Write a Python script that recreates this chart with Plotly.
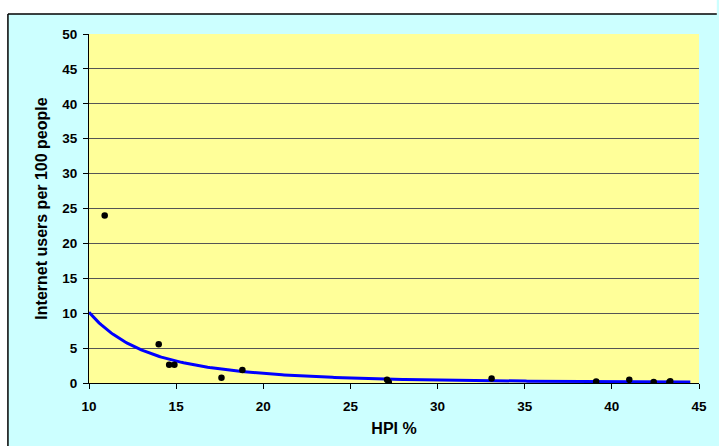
import numpy as np
import plotly.graph_objects as go

# Data
hpi = [10.9, 14.0, 14.6, 14.9, 17.6, 18.8, 27.1, 27.2, 33.1, 39.1, 41.0, 42.4, 43.35, 43.3]
internet = [24.0, 5.55, 2.6, 2.6, 0.75, 1.85, 0.45, 0.1, 0.65, 0.2, 0.45, 0.15, 0.25, 0.1]
x_ticks = [10, 15, 20, 25, 30, 35, 40, 45]
y_ticks = [0, 5, 10, 15, 20, 25, 30, 35, 40, 45, 50]
trend_range = [10.0, 44.5]

# Power trendline (least squares in log space, as Excel does)
b, ln_a = np.polyfit(np.log(hpi), np.log(internet), 1)
tx = np.linspace(trend_range[0], trend_range[1], 300)
ty = np.exp(ln_a) * tx ** b

fig = go.Figure()
fig.add_trace(go.Scatter(x=tx, y=ty, mode="lines",
                         line=dict(color="#0000FF", width=3), hoverinfo="skip"))
fig.add_trace(go.Scatter(x=hpi, y=internet, mode="markers",
                         marker=dict(color="black", size=6.5)))

W, H = 719, 446
L, R, T, B = 89, 13, 34, 63
pw, ph = W - L - R, H - T - B

def px_x(p):
    return (p - L) / pw

def px_y(p):
    return (H - B - p) / ph

font = "Liberation Sans, Arial, sans-serif"

fig.update_layout(
    width=W, height=H,
    margin=dict(l=L, r=R, t=T, b=B),
    paper_bgcolor="#CCFFFF",
    plot_bgcolor="#FFFF99",
    showlegend=False,
    font=dict(family=font, color="black", size=13),
    xaxis=dict(
        range=[10, 45], tickvals=x_ticks, ticks="outside", ticklen=5,
        tickcolor="black", showline=True, linecolor="black", linewidth=1,
        showgrid=False, zeroline=False, ticklabelstandoff=6,
        tickfont=dict(family=font, size=13.5, color="black", weight="bold"),
        title=dict(text="<b>HPI %</b>", font=dict(family=font, size=16), standoff=9),
    ),
    yaxis=dict(
        range=[0, 50], tickvals=y_ticks, ticks="outside", ticklen=5,
        tickcolor="black", showline=True, linecolor="black", linewidth=1,
        showgrid=True, gridcolor="#555555", gridwidth=1, zeroline=False,
        ticklabelstandoff=3,
        tickfont=dict(family=font, size=13.5, color="black", weight="bold"),
        title=dict(text="<b>Internet users per 100 people</b>", font=dict(family=font, size=16), standoff=10),
    ),
    shapes=[
        # white strips outside the chart border
        dict(type="rect", xref="paper", yref="paper", x0=px_x(-5), x1=px_x(W + 5),
             y0=px_y(14), y1=px_y(-5), fillcolor="white", line=dict(width=0), layer="above"),
        dict(type="rect", xref="paper", yref="paper", x0=px_x(-5), x1=px_x(7),
             y0=px_y(H + 5), y1=px_y(-5), fillcolor="white", line=dict(width=0), layer="above"),
        # chart border
        dict(type="line", xref="paper", yref="paper", x0=px_x(7), x1=px_x(W + 5),
             y0=px_y(14), y1=px_y(14), line=dict(color="black", width=1.5), layer="above"),
        dict(type="line", xref="paper", yref="paper", x0=px_x(7), x1=px_x(7),
             y0=px_y(14), y1=px_y(H + 5), line=dict(color="black", width=1.5), layer="above"),
    ],
)

fig.write_html("out.html", config={"displayModeBar": False})

# remove the default page margin so the figure sits at the window origin
with open("out.html", encoding="utf-8") as f:
    html = f.read()
html = html.replace("<head>", "<head><style>html,body{margin:0;padding:0;overflow:hidden;}</style>", 1)
with open("out.html", "w", encoding="utf-8") as f:
    f.write(html)
